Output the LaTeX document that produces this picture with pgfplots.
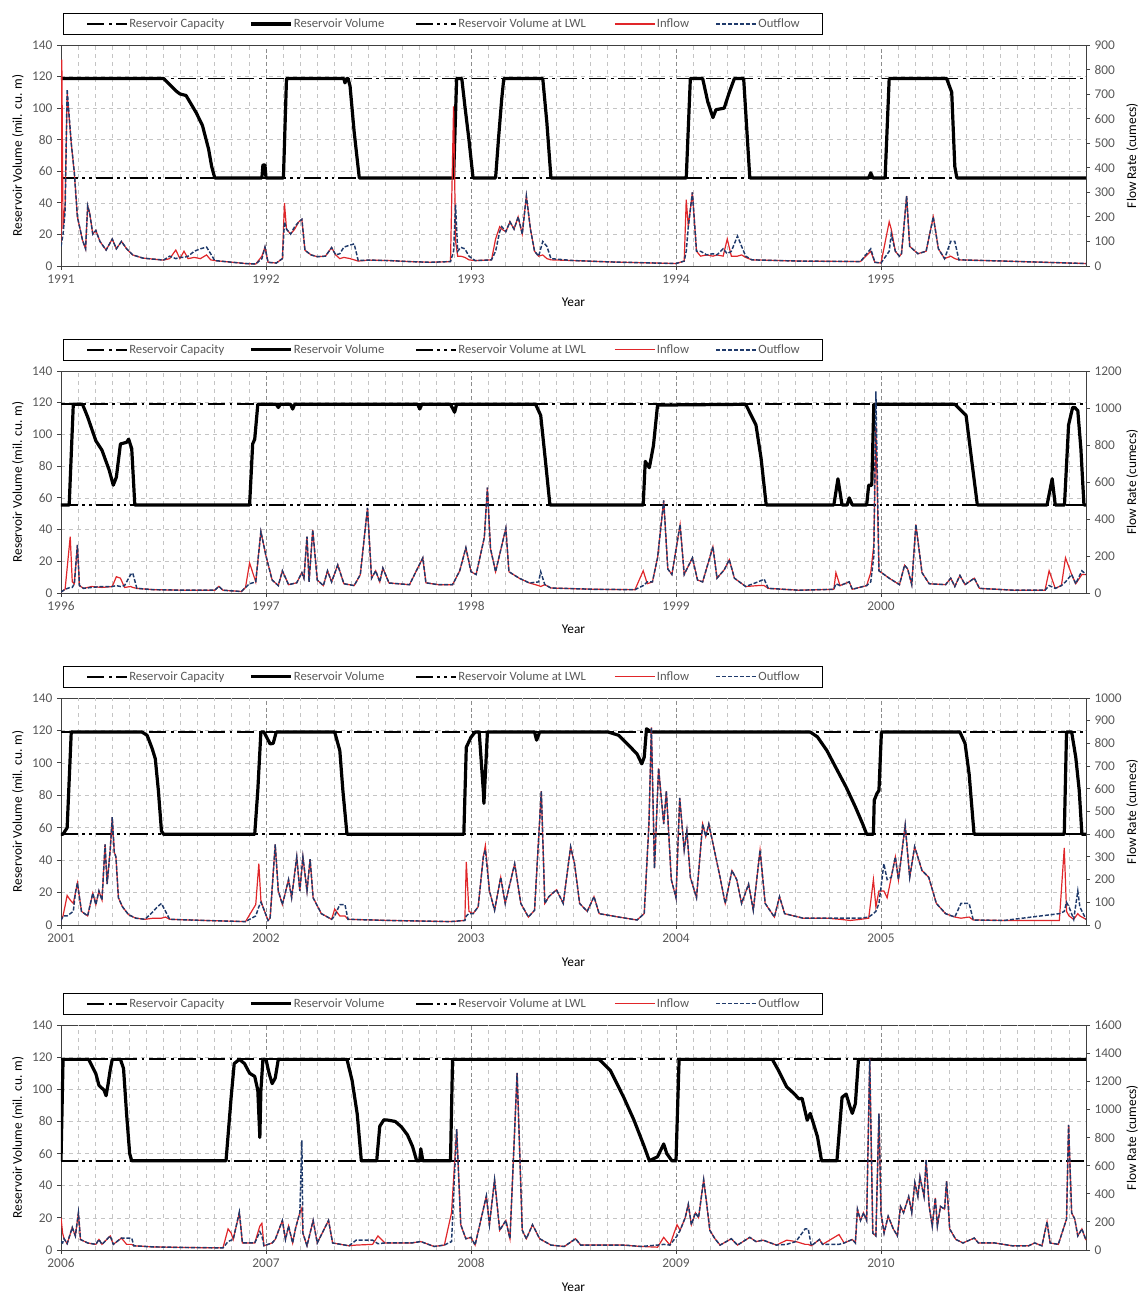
\documentclass[border=0pt]{standalone}
\usepackage{fontspec}
\setmainfont{Carlito}
\usepackage{pgfplots}
\usepackage{pgfplotstable}
\pgfplotsset{compat=1.18}

\definecolor{txt}{HTML}{595959}
\definecolor{inred}{HTML}{E0262A}
\definecolor{outblue}{HTML}{1F3A6B}
\definecolor{gridmaj}{HTML}{8C8C8C}
\definecolor{gridmin}{HTML}{C4C4C4}

\newcommand{\months}[1]{#1.0833,#1.1667,#1.25,#1.3333,#1.4167,#1.5,#1.5833,#1.6667,#1.75,#1.8333,#1.9167}
\edef\monthsA{\months{1991},\months{1992},\months{1993},\months{1994},\months{1995}}
\edef\monthsB{\months{1996},\months{1997},\months{1998},\months{1999},\months{2000}}
\edef\monthsC{\months{2001},\months{2002},\months{2003},\months{2004},\months{2005}}
\edef\monthsD{\months{2006},\months{2007},\months{2008},\months{2009},\months{2010}}

\tikzset{
  capstyle/.style={black, line width=1.4pt, dash pattern=on 13pt off 3.5pt on 2pt off 3.5pt},
  lwlstyle/.style={black, line width=1.4pt, dash pattern=on 13pt off 3pt on 2pt off 3pt on 2pt off 3pt},
  volstyle/.style={black, line width=2.4pt, line join=round},
  instyle/.style={inred, line width=0.9pt},
  outstyle/.style={outblue, line width=1.1pt, dash pattern=on 3pt off 1.4pt},
}

\pgfplotsset{
  common/.style={scale only axis, width=768.75pt, anchor=south west, no markers,
    tick label style={font=\fontsize{10}{11}\selectfont, text=txt},
    label style={font=\fontsize{10}{12}\selectfont, text=txt},
    /pgf/number format/assume math mode=true,
    /pgf/number format/1000 sep={},
    tick align=outside, major tick length=3pt,
    axis line style={black!75, line width=0.6pt},
    every tick/.style={black!75, line width=0.6pt},
  },
  panelL/.style={common,
    ymin=0, ymax=140, ytick={0,20,...,140},
    tick pos=left,
    xmajorgrids, ymajorgrids,
    major x grid style={gridmaj, line width=0.5pt, dash pattern=on 3pt off 2pt},
    major y grid style={gridmin, line width=0.5pt, dash pattern=on 3pt off 3pt},
    extra x tick labels={},
    extra x tick style={grid=major, major tick length=0pt,
      major grid style={gridmin, line width=0.5pt, dash pattern=on 3pt off 3pt},
      major x grid style={gridmin, line width=0.5pt, dash pattern=on 3pt off 3pt}},
    xlabel={Year}, ylabel={Reservoir Volume (mil. cu. m)},
    every axis x label/.style={at={(axis description cs:0.5,-0.165)}, anchor=center},
    every axis y label/.style={at={(axis description cs:-0.042,0.5)}, rotate=90, anchor=center},
    legend columns=5, legend cell align=left,
    legend style={at={(0.002,1.045)}, anchor=south west, draw=black, line width=0.6pt,
      inner xsep=17pt, inner ysep=3pt, font=\fontsize{9.5}{11}\selectfont, text=txt,
      nodes={inner sep=1pt}, /tikz/every even column/.append style={column sep=0pt}},
    legend image code/.code={\draw[##1] (0pt,0pt) -- (30pt,0pt);},
  },
  panelR/.style={common, ymin=0, axis y line*=right, axis x line=none,
    ylabel={Flow Rate (cumecs)},
    every axis y label/.style={at={(axis description cs:1.045,0.5)}, rotate=90, anchor=center},
  },
}

\newcommand{\mylegend}{%
  \addlegendimage{capstyle}\addlegendentry{\makebox[89pt][l]{Reservoir Capacity}}
  \addlegendimage{volstyle}\addlegendentry{\makebox[90pt][l]{Reservoir Volume}}
  \addlegendimage{lwlstyle}\addlegendentry{\makebox[116pt][l]{Reservoir Volume at LWL}}
  \addlegendimage{instyle}\addlegendentry{\makebox[43pt][l]{Inflow}}
  \addlegendimage{outstyle}\addlegendentry{\makebox[30pt][l]{Outflow}}
}

% ---------------- Panel 1 data ----------------
\pgfplotstableread{
x v
1991.000 118.8
1991.500 118.8
1991.530 115
1991.560 111
1991.580 109
1991.610 108
1991.660 97
1991.690 89
1991.720 74
1991.735 63
1991.750 55.8
1991.980 55.8
1991.985 64
1991.995 64
1992.000 55.8
1992.085 55.8
1992.100 118.8
1992.380 118.8
1992.385 116
1992.395 118.8
1992.400 118.8
1992.410 114
1992.430 85
1992.455 55.8
1992.915 55.8
1992.930 118.8
1992.955 118.8
1992.970 101.5
1992.990 80
1993.010 55.8
1993.120 55.8
1993.135 82
1993.150 106
1993.160 118.8
1993.350 118.8
1993.370 91
1993.390 55.8
1994.050 55.8
1994.070 118.8
1994.130 118.8
1994.155 104
1994.180 94
1994.195 99
1994.235 100
1994.260 110
1994.285 118.8
1994.330 118.8
1994.360 55.8
1994.940 55.8
1994.950 59
1994.960 55.8
1995.020 55.8
1995.040 118.8
1995.320 118.8
1995.345 110
1995.360 63
1995.370 55.8
1996.000 55.8
}\volA

\pgfplotstableread{
x in out
1991.000 100 80
1991.004 840 100
1991.010 150 130
1991.020 250 220
1991.030 700 720
1991.050 500 500
1991.065 380 380
1991.080 200 200
1991.105 105 105
1991.120 70 70
1991.130 245 245
1991.140 215 215
1991.155 130 130
1991.170 145 145
1991.190 100 100
1991.220 65 65
1991.250 110 110
1991.270 70 70
1991.295 100 100
1991.320 70 70
1991.350 45 45
1991.400 32 32
1991.450 28 28
1991.500 24 24
1991.530 30 40
1991.560 65 30
1991.580 30 35
1991.600 60 35
1991.620 30 40
1991.650 35 60
1991.680 30 70
1991.710 45 77
1991.730 25 50
1991.750 22 22
1991.800 18 18
1991.850 14 14
1991.900 10 10
1991.950 8 8
1991.980 40 30
1991.995 77 77
1992.010 15 15
1992.050 12 12
1992.080 30 30
1992.090 256 180
1992.100 150 150
1992.120 130 130
1992.140 150 160
1992.160 180 180
1992.175 190 190
1992.190 64 64
1992.220 45 45
1992.250 38 38
1992.290 40 40
1992.320 75 75
1992.340 45 45
1992.360 30 50
1992.380 35 77
1992.410 30 85
1992.430 25 90
1992.450 20 22
1992.500 24 24
1992.600 22 22
1992.700 18 18
1992.800 15 15
1992.900 18 18
1992.915 650 60
1992.925 100 250
1992.935 40 60
1992.950 40 76
1992.970 35 70
1992.990 25 40
1993.020 22 22
1993.100 25 25
1993.120 110 60
1993.140 160 140
1993.150 150 160
1993.170 140 140
1993.190 180 180
1993.210 150 150
1993.230 200 200
1993.250 130 130
1993.270 285 285
1993.290 150 150
1993.310 60 60
1993.330 40 40
1993.350 45 100
1993.370 30 80
1993.390 25 30
1993.500 22 22
1993.700 16 16
1993.900 12 12
1994.000 10 10
1994.040 20 20
1994.050 270 60
1994.060 160 160
1994.080 300 300
1994.100 60 60
1994.120 40 60
1994.150 45 45
1994.180 40 50
1994.200 45 45
1994.230 40 70
1994.250 110 50
1994.270 40 60
1994.300 40 122
1994.320 45 80
1994.340 35 40
1994.370 25 25
1994.600 20 20
1994.900 18 18
1994.950 60 70
1994.970 15 15
1995.000 12 12
1995.040 180 60
1995.050 150 130
1995.070 60 60
1995.090 40 40
1995.100 50 50
1995.125 285 285
1995.140 80 80
1995.180 50 50
1995.220 60 60
1995.255 200 200
1995.280 70 70
1995.310 30 30
1995.340 40 100
1995.360 30 100
1995.380 25 25
1995.600 20 20
1995.800 15 15
1996.000 10 10
}\flowA

% ---------------- Panel 2 data ----------------
\pgfplotstableread{
x v
1996.000 55.5
1996.040 55.5
1996.060 119
1996.105 119
1996.130 111
1996.170 96
1996.200 90
1996.235 77.5
1996.255 68
1996.270 73
1996.290 94
1996.320 95
1996.330 97
1996.345 91
1996.360 55.5
1996.920 55.5
1996.935 94
1996.945 97
1996.960 119
1997.050 119
1997.060 117
1997.070 119
1997.120 119
1997.130 116
1997.140 119
1997.740 119
1997.750 116
1997.760 119
1997.900 119
1997.920 114
1997.930 119
1998.315 119
1998.340 112
1998.365 81
1998.385 55.5
1998.840 55.5
1998.850 83
1998.870 79
1998.890 93
1998.910 118.5
1999.340 119
1999.390 106
1999.415 85
1999.440 55.5
1999.770 55.5
1999.790 72
1999.810 55.5
1999.835 55.5
1999.845 60
1999.860 55.5
1999.930 55.5
1999.940 68
1999.955 68
1999.965 119
2000.360 119
2000.415 112
2000.445 81
2000.470 55.5
2000.810 55.5
2000.835 72
2000.850 55.5
2000.895 55.5
2000.915 106
2000.935 117
2000.945 117
2000.960 115
2000.975 91
2000.990 55.5
2001.000 55.5
}\volB

\pgfplotstableread{
x in out
1996.000 5 5
1996.020 20 20
1996.045 305 30
1996.055 60 30
1996.065 50 50
1996.080 260 260
1996.090 40 40
1996.110 25 25
1996.150 35 30
1996.200 30 35
1996.250 35 35
1996.270 88 40
1996.290 80 35
1996.310 30 40
1996.340 35 100
1996.350 30 108
1996.370 25 25
1996.450 18 18
1996.600 15 15
1996.750 15 15
1996.770 36 36
1996.790 15 15
1996.880 8 8
1996.900 30 30
1996.920 162 50
1996.950 60 60
1996.975 332 332
1997.000 200 200
1997.030 70 70
1997.060 40 40
1997.080 120 120
1997.110 45 45
1997.150 55 55
1997.175 110 110
1997.185 80 80
1997.200 305 305
1997.210 60 60
1997.228 341 341
1997.250 70 70
1997.280 40 40
1997.300 120 120
1997.320 60 60
1997.350 152 152
1997.380 50 50
1997.430 40 40
1997.460 99 99
1997.495 460 460
1997.515 80 80
1997.535 120 120
1997.555 60 60
1997.570 135 135
1997.600 54 54
1997.700 45 45
1997.765 190 190
1997.780 55 55
1997.840 45 45
1997.910 45 45
1997.945 120 120
1997.975 245 245
1998.000 115 115
1998.025 100 100
1998.065 300 300
1998.080 570 570
1998.095 240 240
1998.120 115 115
1998.170 350 350
1998.185 115 115
1998.235 80 80
1998.285 54 54
1998.330 40 60
1998.340 35 115
1998.360 45 45
1998.390 27 27
1998.600 20 20
1998.800 18 18
1998.840 120 40
1998.860 50 60
1998.885 60 60
1998.910 190 190
1998.940 500 500
1998.960 130 130
1998.980 100 100
1999.020 370 370
1999.040 100 100
1999.080 190 190
1999.105 70 70
1999.130 60 60
1999.180 250 250
1999.200 80 80
1999.235 125 125
1999.260 180 180
1999.285 80 80
1999.340 35 35
1999.400 40 60
1999.430 40 75
1999.450 25 25
1999.600 15 15
1999.770 20 20
1999.780 110 50
1999.800 40 40
1999.845 60 60
1999.860 20 20
1999.930 40 40
1999.950 110 60
1999.965 260 200
1999.975 900 1090
1999.990 120 120
2000.040 80 80
2000.090 45 45
2000.115 150 150
2000.130 130 130
2000.150 45 45
2000.170 370 370
2000.200 110 110
2000.235 50 50
2000.315 45 45
2000.340 80 80
2000.360 35 35
2000.385 95 95
2000.410 45 45
2000.455 80 80
2000.480 25 25
2000.650 15 15
2000.800 15 15
2000.820 120 40
2000.850 25 25
2000.880 40 40
2000.900 190 60
2000.930 100 100
2000.950 50 50
2000.980 100 120
2001.000 100 100
}\flowB

% ---------------- Panel 3 data ----------------
\pgfplotstableread{
x v
2001.000 56
2001.010 56
2001.030 60
2001.050 119
2001.395 119
2001.420 117
2001.445 108.7
2001.460 102.5
2001.475 83
2001.490 58
2001.500 56
2001.945 56
2001.960 83
2001.975 119
2001.990 119
2002.020 111.7
2002.035 112
2002.050 119
2002.335 119
2002.360 107.6
2002.375 83
2002.395 56
2002.965 56
2002.977 109.6
2003.000 115.8
2003.020 119
2003.040 119
2003.060 83
2003.063 75
2003.074 103
2003.080 119
2003.310 119
2003.320 114
2003.335 119
2003.670 119
2003.720 117
2003.760 112
2003.810 105.5
2003.833 99.4
2003.845 103.5
2003.856 121
2003.880 119
2004.655 119
2004.690 116
2004.736 107.6
2004.780 97
2004.830 85
2004.875 72.8
2004.910 62.5
2004.930 56
2004.963 56
2004.967 76.9
2004.980 81
2004.990 83
2005.002 119
2005.385 119
2005.410 112
2005.430 93
2005.454 56
2005.894 56
2005.905 119
2005.930 119
2005.950 103.5
2005.967 83
2005.980 56
2006.000 56
}\volC

\pgfplotstableread{
x in out
2001.000 20 20
2001.010 40 40
2001.030 130 40
2001.045 110 50
2001.060 95 60
2001.070 140 140
2001.080 185 185
2001.100 60 60
2001.130 40 40
2001.155 140 140
2001.170 90 90
2001.185 150 150
2001.200 110 110
2001.215 355 355
2001.225 180 180
2001.240 330 330
2001.250 475 475
2001.260 320 320
2001.268 300 300
2001.280 120 120
2001.300 80 80
2001.330 45 45
2001.365 30 30
2001.410 25 25
2001.450 30 60
2001.470 30 80
2001.490 30 95
2001.510 35 60
2001.530 25 25
2001.700 20 20
2001.900 15 15
2001.950 90 40
2001.965 270 80
2001.975 110 100
2001.985 80 80
2002.010 20 20
2002.020 30 30
2002.045 355 355
2002.060 150 150
2002.080 90 90
2002.110 200 200
2002.125 120 120
2002.150 300 300
2002.165 150 150
2002.180 300 300
2002.200 150 150
2002.215 290 290
2002.230 120 120
2002.270 50 50
2002.320 25 25
2002.335 70 40
2002.360 40 90
2002.385 40 90
2002.400 25 25
2002.600 20 20
2002.900 15 15
2002.970 20 20
2002.977 278 40
2002.990 60 50
2003.010 50 50
2003.035 80 80
2003.060 300 300
2003.070 350 330
2003.090 150 150
2003.115 65 65
2003.145 210 210
2003.167 95 95
2003.213 270 270
2003.243 95 95
2003.280 35 35
2003.310 65 65
2003.343 590 590
2003.360 95 95
2003.380 125 125
2003.417 155 155
2003.450 95 95
2003.486 345 345
2003.505 270 270
2003.530 95 95
2003.567 60 60
2003.600 125 125
2003.625 50 50
2003.720 35 35
2003.810 22 22
2003.845 50 50
2003.868 445 445
2003.880 870 870
2003.895 250 250
2003.915 690 690
2003.940 445 445
2003.953 590 590
2003.977 200 200
2004.000 120 120
2004.018 560 560
2004.040 330 330
2004.053 415 415
2004.070 210 210
2004.100 120 120
2004.130 445 445
2004.145 390 390
2004.160 445 445
2004.180 360 360
2004.215 210 210
2004.240 95 95
2004.273 240 240
2004.296 200 200
2004.320 95 95
2004.354 180 180
2004.377 65 65
2004.410 330 330
2004.435 95 95
2004.480 35 35
2004.505 125 125
2004.530 50 50
2004.620 30 30
2004.736 30 30
2004.800 25 30
2004.850 20 30
2004.900 25 30
2004.940 30 35
2004.963 200 50
2004.975 80 60
2004.990 150 95
2005.014 150 270
2005.030 120 200
2005.050 210 210
2005.070 300 300
2005.085 200 200
2005.095 270 270
2005.118 440 440
2005.140 210 210
2005.164 345 345
2005.200 240 240
2005.233 210 210
2005.270 95 95
2005.315 50 50
2005.360 35 35
2005.390 30 95
2005.430 35 95
2005.450 22 22
2005.600 20 20
2005.870 20 50
2005.894 340 60
2005.905 60 100
2005.917 40 80
2005.940 25 25
2005.960 50 150
2005.970 40 80
2006.000 25 25
}\flowC

% ---------------- Panel 4 data ----------------
\pgfplotstableread{
x v
2006.000 55.5
2006.010 118.6
2006.135 118.6
2006.170 109.7
2006.185 102.5
2006.210 99.4
2006.220 96
2006.230 103.5
2006.240 112
2006.250 118.6
2006.290 118.6
2006.305 113
2006.320 84.6
2006.335 60
2006.345 55.5
2006.805 55.5
2006.830 95
2006.845 116
2006.870 118.6
2006.895 116
2006.920 110
2006.945 108
2006.960 99.4
2006.970 70
2006.975 99
2006.985 118.6
2007.000 118.6
2007.015 110
2007.030 103.5
2007.045 107
2007.060 118.6
2007.395 118.6
2007.420 105.5
2007.445 84.6
2007.465 55.5
2007.540 55.5
2007.555 77
2007.575 81
2007.595 80.8
2007.630 80
2007.660 76.7
2007.690 71.6
2007.715 64.4
2007.735 55.5
2007.750 55.5
2007.755 63
2007.765 55.5
2007.900 55.5
2007.910 118.6
2008.625 118.6
2008.680 111.7
2008.745 95
2008.795 80.8
2008.845 64.4
2008.870 55.5
2008.910 58
2008.925 62
2008.940 66
2008.955 60
2008.980 55.5
2009.000 55.5
2009.015 118.6
2009.470 118.6
2009.500 111.7
2009.540 101.5
2009.575 97.4
2009.600 94
2009.615 94.4
2009.640 80.8
2009.655 85
2009.670 78.9
2009.690 70.5
2009.710 55.5
2009.785 55.5
2009.810 95
2009.830 97
2009.850 88.6
2009.860 85
2009.875 91
2009.890 118.6
2011.000 118.6
}\volD

\pgfplotstableread{
x in out
2006.000 230 60
2006.008 120 50
2006.015 80 80
2006.030 45 45
2006.055 160 160
2006.070 100 100
2006.085 265 265
2006.095 75 75
2006.130 50 50
2006.170 40 40
2006.185 75 75
2006.200 40 40
2006.240 100 100
2006.255 40 40
2006.295 85 85
2006.320 40 85
2006.345 40 85
2006.355 30 30
2006.450 22 22
2006.600 18 18
2006.790 15 15
2006.815 150 60
2006.830 120 70
2006.840 75 75
2006.870 265 270
2006.885 50 50
2006.945 50 50
2006.970 170 130
2006.980 190 100
2006.990 30 30
2007.030 50 50
2007.045 75 75
2007.080 210 210
2007.095 75 75
2007.110 170 170
2007.130 50 50
2007.145 160 160
2007.165 265 265
2007.175 300 780
2007.180 120 120
2007.200 30 30
2007.230 210 210
2007.250 50 50
2007.305 210 210
2007.325 50 50
2007.405 30 30
2007.440 35 70
2007.520 40 70
2007.546 100 45
2007.580 50 50
2007.610 50 50
2007.710 50 50
2007.755 60 60
2007.820 25 25
2007.870 35 35
2007.905 264 60
2007.930 860 860
2007.950 180 180
2007.975 80 80
2008.000 90 90
2008.020 35 35
2008.075 385 385
2008.090 180 180
2008.115 500 500
2008.140 140 140
2008.170 210 210
2008.190 80 80
2008.225 1260 1260
2008.250 140 140
2008.270 80 80
2008.300 180 180
2008.335 80 80
2008.390 35 35
2008.455 25 25
2008.510 80 80
2008.535 35 35
2008.665 35 35
2008.745 35 35
2008.830 25 25
2008.910 20 35
2008.940 90 40
2008.970 35 35
2009.005 180 100
2009.020 140 140
2009.045 230 230
2009.060 325 325
2009.075 180 180
2009.095 265 265
2009.110 230 230
2009.135 500 500
2009.150 325 325
2009.165 140 140
2009.190 80 80
2009.215 35 35
2009.270 80 80
2009.300 35 35
2009.360 90 90
2009.390 60 60
2009.425 70 70
2009.490 35 35
2009.540 70 40
2009.585 60 60
2009.630 40 150
2009.645 40 150
2009.660 30 30
2009.700 75 75
2009.715 40 40
2009.795 110 40
2009.820 50 50
2009.860 75 75
2009.875 50 50
2009.885 290 290
2009.900 210 210
2009.915 265 265
2009.930 210 210
2009.945 1360 1360
2009.960 120 120
2009.975 100 100
2009.990 970 970
2010.000 265 265
2010.015 120 120
2010.035 240 240
2010.060 150 150
2010.080 100 100
2010.095 310 310
2010.110 265 265
2010.135 380 380
2010.150 265 265
2010.165 480 480
2010.180 380 380
2010.190 520 520
2010.210 380 380
2010.220 640 640
2010.235 310 310
2010.250 170 170
2010.265 370 370
2010.275 170 170
2010.290 310 310
2010.310 290 290
2010.320 490 490
2010.335 150 150
2010.365 75 75
2010.400 50 50
2010.455 85 85
2010.475 50 50
2010.555 50 50
2010.640 30 30
2010.720 30 30
2010.750 50 50
2010.785 30 30
2010.810 200 200
2010.825 50 50
2010.865 40 40
2010.905 220 220
2010.915 890 890
2010.930 265 265
2010.945 220 220
2010.960 100 100
2010.980 150 150
2011.000 70 70
}\flowD

\begin{document}
\begin{tikzpicture}
\path[use as bounding box] (0pt,0pt) rectangle (861pt,972pt);

% ===== Panel 1 =====
\begin{axis}[panelL, at={(45.75pt,772.5pt)}, height=165.75pt,
  xmin=1991, xmax=1996, xtick={1991,1992,1993,1994,1995}, extra x ticks/.expand once={\monthsA}]
\addplot[capstyle, forget plot] coordinates {(1991,118.8) (1996,118.8)};
\addplot[lwlstyle, forget plot] coordinates {(1991,55.8) (1996,55.8)};
\addplot[volstyle, forget plot] table[x=x,y=v]{\volA};
\mylegend
\end{axis}
\begin{axis}[panelR, at={(45.75pt,772.5pt)}, height=165.75pt,
  xmin=1991, xmax=1996, ymax=900, ytick={0,100,...,900}]
\addplot[instyle] table[x=x,y=in]{\flowA};
\addplot[outstyle] table[x=x,y=out]{\flowA};
\end{axis}

% ===== Panel 2 =====
\begin{axis}[panelL, at={(45.75pt,527.25pt)}, height=166.5pt,
  xmin=1996, xmax=2001, xtick={1996,1997,1998,1999,2000}, extra x ticks/.expand once={\monthsB}]
\addplot[capstyle, forget plot] coordinates {(1996,119) (2001,119)};
\addplot[lwlstyle, forget plot] coordinates {(1996,55.5) (2001,55.5)};
\addplot[volstyle, forget plot] table[x=x,y=v]{\volB};
\mylegend
\end{axis}
\begin{axis}[panelR, at={(45.75pt,527.25pt)}, height=166.5pt,
  xmin=1996, xmax=2001, ymax=1200, ytick={0,200,...,1200}]
\addplot[instyle] table[x=x,y=in]{\flowB};
\addplot[outstyle] table[x=x,y=out]{\flowB};
\end{axis}

% ===== Panel 3 =====
\begin{axis}[panelL, at={(45.75pt,278.25pt)}, height=170.25pt,
  xmin=2001, xmax=2006, xtick={2001,2002,2003,2004,2005}, extra x ticks/.expand once={\monthsC}]
\addplot[capstyle, forget plot] coordinates {(2001,119) (2006,119)};
\addplot[lwlstyle, forget plot] coordinates {(2001,56) (2006,56)};
\addplot[volstyle, forget plot] table[x=x,y=v]{\volC};
\mylegend
\end{axis}
\begin{axis}[panelR, at={(45.75pt,278.25pt)}, height=170.25pt,
  xmin=2001, xmax=2006, ymax=1000, ytick={0,100,...,1000}]
\addplot[instyle] table[x=x,y=in]{\flowC};
\addplot[outstyle] table[x=x,y=out]{\flowC};
\end{axis}

% ===== Panel 4 =====
\begin{axis}[panelL, at={(45.75pt,34.5pt)}, height=168.75pt,
  xmin=2006, xmax=2011, xtick={2006,2007,2008,2009,2010}, extra x ticks/.expand once={\monthsD}]
\addplot[capstyle, forget plot] coordinates {(2006,118.6) (2011,118.6)};
\addplot[lwlstyle, forget plot] coordinates {(2006,55.5) (2011,55.5)};
\addplot[volstyle, forget plot] table[x=x,y=v]{\volD};
\mylegend
\end{axis}
\begin{axis}[panelR, at={(45.75pt,34.5pt)}, height=168.75pt,
  xmin=2006, xmax=2011, ymax=1600, ytick={0,200,...,1600}]
\addplot[instyle] table[x=x,y=in]{\flowD};
\addplot[outstyle] table[x=x,y=out]{\flowD};
\end{axis}
\end{tikzpicture}
\end{document}
